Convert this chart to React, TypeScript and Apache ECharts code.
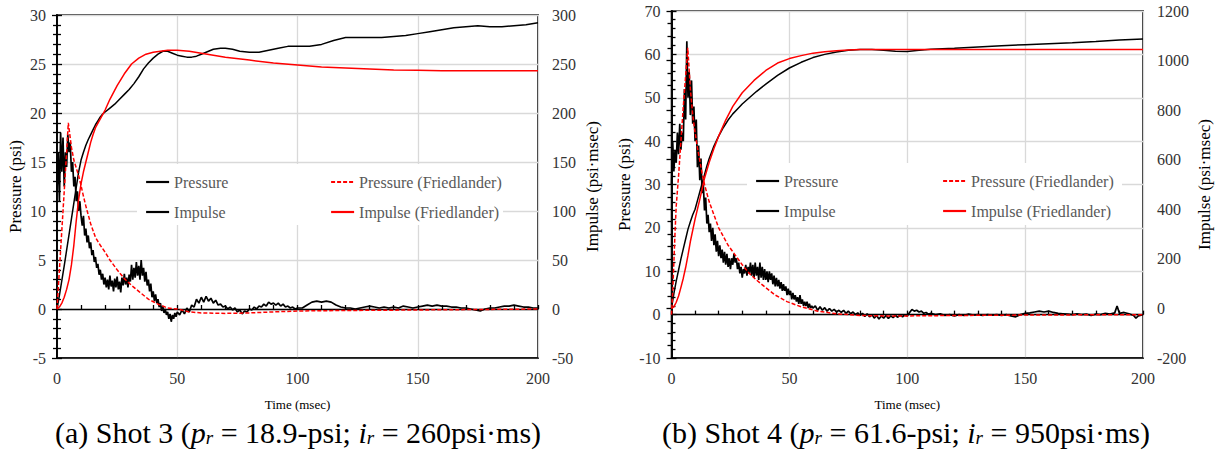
import React, { useEffect, useRef } from "react";
import * as echarts from "echarts";

// ---------- Shot 3 (a) ----------
const shot3Pressure: number[][] = [
  [0,12],[0.5,16],[1,11],[1.5,18],[2,14],[2.5,17.5],[3,12.5],[3.5,16],[4,14.5],[4.5,17.8],[5,16],[5.5,17],[6,14],[6.5,15],[7,12.5],[7.5,13.5],[8,11],[8.5,12],[9,10],[9.5,11],[10,9.5],
  [10.5,8.5],[11,9.5],[11.5,7.5],[12,8.2],[12.5,6.8],[13,7.5],[13.5,6.2],[14,6.8],[14.5,5.5],[15,6],[15.5,4.8],[16,5.3],[16.5,4.2],[17,4.6],[17.5,3.5],[18,4],[18.5,3],[19,3.6],[19.5,2.5],[20,3.2],
  [20.5,2.2],[21,3],[21.5,2],[22,3.4],[22.5,2.3],[23,2.9],[23.5,1.8],[24,3.1],[24.5,2.2],[25,3.3],[25.5,2],[26,2.8],[26.5,1.7],[27,3.2],[27.5,2.4],[28,3.6],[28.5,2.5],[29,3.2],[29.5,2.2],[30,3.5],
  [30.5,2.8],[31,4.5],[31.5,3],[32,4.2],[32.5,3.2],[33,4.8],[33.5,3.4],[34,4.4],[34.5,3],[35,5],[35.5,3.4],[36,4.2],[36.5,2.8],[37,3.8],[37.5,2.4],[38,3],[38.5,1.8],[39,2.6],[39.5,1.2],[40,1.8],
  [40.5,0.8],[41,1.5],[41.5,0.6],[42,1],[42.5,0.2],[43,0.6],[43.5,-0.2],[44,0.3],[44.5,-0.4],[45,0],[45.5,-0.6],[46,-0.3],[46.5,-1],[47,-0.5],[47.5,-1.3],[48,-0.6],[48.5,-1],[49,-0.4],[49.5,-0.8],[50,-0.3],
  [51,-0.6],[52,-0.1],[53,-0.5],[54,0.1],[55,-0.3],[56,0.4],[57,0.2],[58,1],[59,0.6],[60,1.2],[61,0.7],[62,1.3],[63,0.8],[64,1.1],[65,0.6],[66,0.9],[67,0.4],[68,0.5],[69,0.2],[70,0.3],
  [71,0],[72,0.2],[73,-0.1],[74,0.1],[75,-0.3],[76,-0.1],[77,-0.5],[78,-0.2],[79,-0.3],[80,0],[81,-0.1],[82,0.2],[83,0],[84,0.3],[85,0.2],[86,0.5],[87,0.3],[88,0.7],[89,0.5],[90,0.6],
  [91,0.4],[92,0.6],[93,0.3],[94,0.5],[95,0.2],[96,0.3],[97,0.1],[98,0.2],[99,0],[100,0.1],
  [102,0.1],[104,0.4],[106,0.7],[108,0.8],[110,0.7],[112,0.8],[114,0.7],[116,0.4],[118,0.2],[120,0.1],[122,0.1],[124,0],[126,0.1],[128,0.2],[130,0.3],[132,0.2],[134,0.1],[136,0.2],[138,0.1],[140,0.2],
  [142,0.1],[144,0.3],[146,0.2],[148,0.1],[150,0.2],[152,0.3],[154,0.4],[156,0.3],[158,0.4],[160,0.3],[162,0.3],[164,0.2],[166,0.2],[168,0.1],[170,0.1],[172,0],[174,-0.1],[176,-0.2],[178,0],[180,0.1],
  [182,0.1],[184,0.2],[186,0.3],[188,0.3],[190,0.4],[192,0.3],[194,0.2],[196,0.2],[198,0.1],[200,0.1]
];
const shot3Impulse: number[][] = [
  [0,0],[1,14],[2,29],[3,44],[4,60],[5,76],[6,92],[7,108],[8,124],[9,140],[10,152],[11,160],[12,167],[13,173],[14,178],[15,183],[16,188],[17,192],[18,196],[19,199],[20,201],
  [22,205],[24,209],[26,214],[28,219],[30,224],[32,230],[34,237],[36,245],[38,251],[40,256],[42,260],[44,263],[46,263],[48,261],[50,259],[52,258],[54,257],[56,257],[58,258],[60,260],
  [62,262],[65,265],[68,266],[70,266],[73,265],[76,263],[80,262],[84,262],[88,264],[92,266],[96,268],[100,268],[105,268],[110,270],[115,274],[120,277],[125,277],[130,277],[135,277],[140,278],
  [145,279],[150,281],[155,283],[160,285],[165,287],[170,288],[175,289],[180,288],[185,288],[190,289],[195,290],[200,292]
];
const shot3PressureF: number[][] = [
  [0,0],[1,4],[2,8],[3,12],[4,16],[4.7,19],[6,16.5],[7,15.2],[8,14.4],[9,13.6],[10,12.6],[11,11.5],[12,10.5],[13,9.6],[14,8.7],[16,7.3],[18,6.5],[20,5.8],[22,5],[25,4],
  [28,3.1],[31,2.4],[34,1.8],[38,1],[42,0.5],[46,0.1],[50,0],[55,-0.3],[60,-0.4],[70,-0.45],[80,-0.4],[90,-0.3],[100,-0.2],[120,-0.15],[150,-0.1],[200,0]
];
const shot3ImpulseF: number[][] = [
  [0,0],[1,2],[2,6],[3,12],[4,20],[5,30],[6,45],[7,65],[8,90],[9,112],[10,128],[11,140],[12,150],[13,160],[14,170],[15,178],[16,185],[18,194],[20,203],[22,214],
  [25,228],[28,240],[31,250],[34,256],[37,260],[40,262],[43,263],[46,264],[50,264],[55,263],[60,261],[65,259],[70,257],[80,254],[90,251],[100,249],[110,247],[120,246],[130,245],[140,244],
  [150,243.5],[160,243],[180,243],[200,243]
];

// ---------- Shot 4 (b) ----------
const shot4Pressure: number[][] = [
  [0,30],[0.5,40],[1,33],[1.5,38],[2,35],[2.5,42],[3,37],[3.5,44],[4,38],[4.5,42],[5,40],[5.5,52],[6,45],[6.5,63],[7,50],[7.5,56],[8,46],[8.5,54],[9,44],[9.5,48],[10,40],
  [10.5,45],[11,34],[11.5,39],[12,31],[12.5,36],[13,28],[13.5,30],[14,24],[14.5,27],[15,21],[15.5,23],[16,19],[16.5,21],[17,17],[17.5,20],[18,16],[18.5,18.5],[19,14.5],[19.5,17],[20,13.5],
  [20.5,16],[21,13],[21.5,15],[22,12],[22.5,14.5],[23,11.5],[23.5,14],[24,11],[24.5,13],[25,10.5],[25.5,13],[26,11.5],[26.5,14],[27,12],[27.5,13],[28,10.5],[28.5,12],[29,9.5],[29.5,11],[30,8.5],
  [30.5,10.5],[31,9.5],[31.5,11.5],[32,9],[32.5,11],[33,9.5],[33.5,12],[34,9],[34.5,11.5],[35,8.5],[35.5,12],[36,9],[36.5,11],[37,8],[37.5,12],[38,8.5],[38.5,11],[39,8],[39.5,10.5],[40,8],
  [40.5,10],[41,7.5],[41.5,10],[42,8],[42.5,9.5],[43,7],[43.5,9],[44,6.5],[44.5,8.5],[45,6.5],[45.5,8],[46,6],[46.5,7.5],[47,5.5],[47.5,7],[48,5.5],[48.5,6.5],[49,4.5],[49.5,6],[50,4.5],
  [50.5,5.5],[51,3.5],[51.5,5],[52,3.5],[52.5,4.5],[53,3],[53.5,4],[54,2.5],[54.5,4.5],[55,2.5],[55.5,3.5],[56,2],[56.5,3],[57,2],[57.5,3],[58,1.5],[58.5,2.5],[59,1.5],[59.5,2],[60,1.5],
  [61,2],[62,1],[63,1.8],[64,1],[65,1.6],[66,0.8],[67,1.4],[68,0.8],[69,1.2],[70,0.6],[71,1],[72,0.5],[73,1],[74,0.3],[75,0.8],[76,0.2],[77,0.6],[78,0],[79,0.4],[80,-0.2],
  [81,0.3],[82,-0.4],[83,0.2],[84,-0.5],[85,0],[86,-0.8],[87,-0.2],[88,-1],[89,-0.3],[90,-0.8],[91,-0.2],[92,-0.9],[93,-0.3],[94,-0.7],[95,-0.2],[96,-0.6],[97,-0.1],[98,-0.5],[99,0],[100,-0.3],
  [101,0.5],[102,1.2],[103,0.8],[104,1],[105,0.6],[106,0.8],[107,0.3],[108,0.5],[109,0.1],[110,0.3],
  [112,0],[114,0.2],[116,-0.2],[118,0],[120,-0.3],[122,0],[124,-0.2],[126,0.1],[128,-0.1],[130,0],[132,-0.2],[134,0],[136,-0.1],[138,0],[140,-0.2],[142,0],[144,-0.3],[146,-0.5],[148,0],[150,0.3],
  [152,0.4],[154,0.6],[156,0.8],[158,0.6],[160,0.8],[162,0.5],[164,0.3],[166,0.2],[168,0.1],[170,0],[172,0.2],[174,0],[176,0.1],[178,-0.2],[180,0.1],[182,0],[184,0.3],[186,0.1],[188,0.4],[189,2],
  [190,0.3],[192,0.5],[194,0.2],[196,-0.2],[197,-0.8],[198,-0.3],[200,0]
];
const shot4Impulse: number[][] = [
  [0,0],[1,60],[2,110],[3,155],[4,200],[5,240],[6,280],[7,320],[8,350],[9,378],[10,400],[11,435],[12,470],[13,505],[14,540],[15,575],[16,605],[18,655],[20,695],[22,730],
  [24,760],[26,785],[28,805],[30,825],[33,850],[36,875],[40,905],[45,940],[50,970],[55,993],[60,1012],[65,1025],[70,1035],[75,1042],[80,1045],[85,1045],[90,1042],[95,1038],[100,1037],[105,1042],
  [110,1046],[120,1050],[130,1055],[140,1060],[150,1064],[160,1068],[170,1072],[180,1077],[190,1083],[200,1087]
];
const shot4PressureF: number[][] = [
  [0,0],[0.5,5],[1,12],[1.5,19],[2,25],[3,32],[4,40],[5,48],[6,55],[6.9,61.5],[8,52],[9,46],[10,42],[11,38.5],[12,35.5],[13,32.5],[14,30],[15,28],[16,26],[17,24.5],
  [18,23],[20,20],[22,18],[24,16],[26,14.5],[28,13],[30,11.5],[33,9.5],[36,8],[40,6.2],[44,4.5],[49,3],[55,1.8],[62,0.8],[70,0.2],[80,-0.2],[90,-0.3],[100,-0.3],[120,-0.2],[150,-0.1],
  [200,0]
];
const shot4ImpulseF: number[][] = [
  [0,0],[1,6],[2,25],[3,50],[4,85],[5,122],[6,165],[7,215],[8,270],[10,360],[12,440],[14,525],[16,590],[18,645],[20,695],[23,760],[26,815],[30,870],[35,920],[40,960],
  [45,990],[50,1008],[55,1020],[60,1030],[65,1036],[70,1040],[75,1043],[80,1045],[100,1045],[150,1045],[200,1045]
];

const timeTicks = { min: 0, max: 200, interval: 50 };
const FONT = "Liberation Serif";

const captionA = "{a|(a) Shot 3 (}{i|p}{s|r}{a| = 18.9-psi; }{i|i}{s|r}{a| = 260psi·ms)}";
const captionB = "{a|(b) Shot 4 (}{i|p}{s|r}{a| = 61.6-psi; }{i|i}{s|r}{a| = 950psi·ms)}";

function buildOption() {
  const grids = [
    { left: 57, top: 15, width: 481, height: 343 },
    { left: 671.5, top: 11, width: 471.5, height: 347 },
  ];
  const yCfg = [
    { lmin: -5, lmax: 30, li: 5, lsplit: 5, rmin: -50, rmax: 300, ri: 50, rsplit: 5, lgap: 33, rgap: 46 },
    { lmin: -10, lmax: 70, li: 10, lsplit: 5, rmin: -200, rmax: 1200, ri: 200, rsplit: 4, lgap: 39, rgap: 53 },
  ];
  const labelStyle = { fontFamily: FONT, fontSize: 16, color: "#333" };
  const xAxis: any[] = [];
  const yAxis: any[] = [];
  grids.forEach((g, i) => {
    xAxis.push({
      type: "value", gridIndex: i, position: "bottom", ...timeTicks,
      axisLine: { show: true, onZero: true, lineStyle: { color: "#000", width: 1.3 } },
      axisTick: { show: true, inside: true, length: 4, lineStyle: { color: "#000", width: 1.3 } },
      minorTick: { show: true, splitNumber: 5, length: 4, lineStyle: { color: "#000", width: 1.3 } },
      axisLabel: { show: false }, splitLine: { show: false },
    });
    xAxis.push({
      type: "value", gridIndex: i, position: "bottom", ...timeTicks,
      axisLine: { show: true, onZero: false, lineStyle: { color: "#000", width: 1.6 } },
      axisTick: { show: false },
      axisLabel: { ...labelStyle, margin: 12 },
      splitLine: { show: true, lineStyle: { color: "#d9d9d9", width: 1.3 } },
      name: "Time (msec)", nameLocation: "middle", nameGap: 40,
      nameTextStyle: { fontFamily: FONT, fontSize: 13, color: "#000" },
    });
    const c = yCfg[i];
    yAxis.push({
      type: "value", gridIndex: i, position: "left", min: c.lmin, max: c.lmax, interval: c.li,
      axisLine: { show: true, lineStyle: { color: "#000", width: 1.6 } },
      axisTick: { show: true, inside: true, length: 5, lineStyle: { color: "#000", width: 1.3 } },
      minorTick: { show: true, splitNumber: c.lsplit, length: 4, lineStyle: { color: "#000", width: 1.3 } },
      axisLabel: { ...labelStyle, margin: 11, formatter: (v: number) => String(v) },
      splitLine: { show: true, lineStyle: { color: "#d9d9d9", width: 1.3 } },
      name: "Pressure (psi)", nameLocation: "middle", nameGap: c.lgap, nameRotate: 90,
      nameTextStyle: { fontFamily: FONT, fontSize: 17, color: "#000" },
    });
    yAxis.push({
      type: "value", gridIndex: i, position: "right", min: c.rmin, max: c.rmax, interval: c.ri,
      axisLine: { show: true, lineStyle: { color: "#000", width: 1.6 } },
      axisTick: { show: true, inside: true, length: 5, lineStyle: { color: "#000", width: 1.3 } },
      minorTick: { show: true, splitNumber: c.rsplit, length: 4, lineStyle: { color: "#000", width: 1.3 } },
      axisLabel: { ...labelStyle, margin: 14, formatter: (v: number) => String(v) },
      splitLine: { show: false },
      name: "Impulse (psi·msec)", nameLocation: "middle", nameGap: c.rgap, nameRotate: 90,
      nameTextStyle: { fontFamily: FONT, fontSize: 17, color: "#000" },
    });
  });

  const mk = (name: string, data: number[][], gi: number, right: boolean, color: string, dashed: boolean, width: number) => ({
    type: "line", name, data, xAxisIndex: gi * 2 + 1, yAxisIndex: gi * 2 + (right ? 1 : 0),
    showSymbol: false, symbol: "none", silent: true,
    lineStyle: { color, width, type: dashed ? [4, 2] : "solid" },
    itemStyle: { color }, z: 2,
  });
  const series = [
    mk("Pressure", shot3Pressure, 0, false, "#000", false, 1.7),
    mk("Impulse", shot3Impulse, 0, true, "#000", false, 1.5),
    mk("Pressure (Friedlander)", shot3PressureF, 0, false, "#ff0000", true, 1.5),
    mk("Impulse (Friedlander)", shot3ImpulseF, 0, true, "#ff0000", false, 1.5),
    mk("Pressure", shot4Pressure, 1, false, "#000", false, 1.7),
    mk("Impulse", shot4Impulse, 1, true, "#000", false, 1.5),
    mk("Pressure (Friedlander)", shot4PressureF, 1, false, "#ff0000", true, 1.5),
    mk("Impulse (Friedlander)", shot4ImpulseF, 1, true, "#ff0000", false, 1.5),
  ];

  const lg = (data: string[], left: number, top: number) => ({
    data, left, top, orient: "vertical", padding: 0, itemGap: 14, itemWidth: 23, itemHeight: 14,
    selectedMode: false, z: 6,
    itemStyle: { opacity: 0, borderWidth: 0 },
    lineStyle: { width: 2.2 },
    textStyle: { fontFamily: FONT, fontSize: 16, lineHeight: 16, color: "#595959" },
  });
  const legend = [
    lg(["Pressure", "Impulse"], 145, 174),
    lg(["Pressure (Friedlander)", "Impulse (Friedlander)"], 330, 174),
    lg(["Pressure", "Impulse"], 755, 173),
    lg(["Pressure (Friedlander)", "Impulse (Friedlander)"], 942, 173),
  ];

  const capRich = {
    a: { fontFamily: FONT, fontSize: 30, fill: "#000" },
    i: { fontFamily: FONT, fontSize: 30, fontStyle: "italic", fill: "#000" },
    s: { fontFamily: FONT, fontSize: 19, fontStyle: "italic", fill: "#000", verticalAlign: "bottom" },
  };

  const graphic = {
    elements: [
      { type: "rect", shape: { x: 137, y: 164, width: 366, height: 61 }, style: { fill: "#fff" }, z: 3, silent: true },
      { type: "rect", shape: { x: 747, y: 163, width: 375, height: 62 }, style: { fill: "#fff" }, z: 3, silent: true },
      { type: "text", x: 298, y: 432, style: { text: captionA, rich: capRich, fontFamily: FONT, fontSize: 30, fill: "#000", align: "center", verticalAlign: "middle" }, z: 5 },
      { type: "text", x: 906, y: 432, style: { text: captionB, rich: capRich, fontFamily: FONT, fontSize: 30, fill: "#000", align: "center", verticalAlign: "middle" }, z: 5 },
    ],
  };

  return {
    animation: false,
    backgroundColor: "#fff",
    textStyle: { fontFamily: FONT },
    grid: grids.map((g) => ({ ...g, show: true, borderColor: "#000", borderWidth: 1.6, backgroundColor: "transparent", containLabel: false, outerBoundsMode: "none" })),
    xAxis, yAxis, series, legend, graphic,
  };
}

export default function App() {
  const ref = useRef<HTMLDivElement>(null);
  useEffect(() => {
    if (!ref.current) return;
    const chart = echarts.init(ref.current, null, { renderer: "svg" });
    chart.setOption(buildOption() as any);
    return () => chart.dispose();
  }, []);
  return (
    <div style={{ position: "fixed", left: 0, top: 0, width: 1215, height: 451, background: "#fff" }}>
      <div ref={ref} style={{ width: 1215, height: 451 }} />
    </div>
  );
}
